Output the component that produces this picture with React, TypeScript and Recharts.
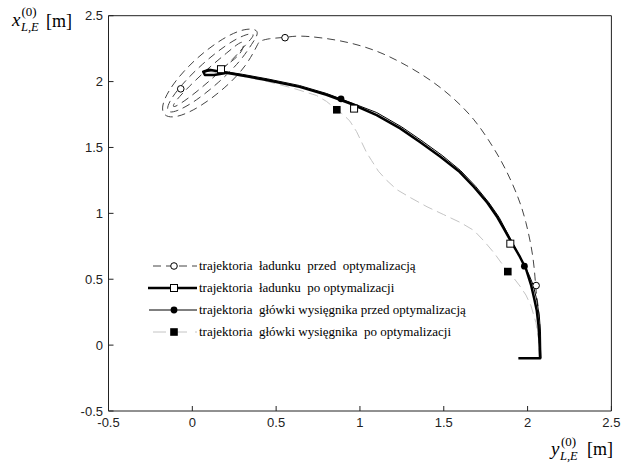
import { ComposedChart, Line, Scatter, XAxis, YAxis, Legend } from 'recharts';

type Pt = [number, number];

const xTicks = [-0.5, 0, 0.5, 1, 1.5, 2, 2.5];
const yTicks = [-0.5, 0, 0.5, 1, 1.5, 2, 2.5];

const seriesNames = [
  'trajektoria  ładunku  przed  optymalizacją',
  'trajektoria  ładunku  po optymalizacji',
  'trajektoria  główki wysięgnika przed optymalizacją',
  'trajektoria  główki wysięgnika  po optymalizacji',
];

// ladunek przed optymalizacja - arc up from the crane, then swinging around the end point
const loadBefore: Pt[] = [
  [2.075, -0.1], [2.075, 0.1], [2.066, 0.26], [2.055, 0.37], [2.047, 0.47], [2.03, 0.68],
  [1.99, 0.93], [1.94, 1.13], [1.87, 1.33], [1.79, 1.51], [1.68, 1.71], [1.55, 1.88],
  [1.42, 2.01], [1.28, 2.12], [1.12, 2.22], [0.95, 2.29], [0.78, 2.33], [0.64, 2.345],
  [0.553, 2.336], [0.46, 2.325], [0.41, 2.31],
  [0.389, 2.28], [0.317, 2.124], [0.19, 1.952], [0.041, 1.811], [-0.089, 1.737], [-0.166, 1.752],
  [-0.169, 1.85], [-0.097, 2.006], [0.03, 2.178], [0.179, 2.32], [0.309, 2.393], [0.386, 2.378],
  [0.353, 2.281], [0.278, 2.15], [0.158, 1.997], [0.025, 1.862], [-0.086, 1.782], [-0.143, 1.777],
  [-0.133, 1.85], [-0.058, 1.98], [0.062, 2.133], [0.195, 2.268], [0.306, 2.348], [0.363, 2.353],
  [0.312, 2.27], [0.238, 2.167], [0.13, 2.037], [0.016, 1.914], [-0.073, 1.832], [-0.112, 1.812],
  [-0.093, 1.86], [-0.018, 1.963], [0.09, 2.093], [0.204, 2.216], [0.293, 2.298], [0.3, 2.25],
  [0.25, 2.17], [0.15, 2.08],
];

const loadAfter: Pt[] = [
  [1.945, -0.1], [2.075, -0.1], [2.07, 0.05], [2.065, 0.15], [2.055, 0.26], [2.04, 0.35],
  [2.02, 0.46], [1.99, 0.58], [1.95, 0.68], [1.9, 0.79], [1.86, 0.88], [1.82, 0.97],
  [1.76, 1.08], [1.68, 1.2], [1.59, 1.32], [1.48, 1.43], [1.36, 1.54], [1.24, 1.645],
  [1.1, 1.745], [0.95, 1.83], [0.8, 1.9], [0.64, 1.96], [0.45, 2.01], [0.28, 2.05],
  [0.17, 2.075], [0.1, 2.09], [0.065, 2.075], [0.075, 2.05], [0.13, 2.05], [0.2, 2.065],
];

const boomBefore: Pt[] = [
  [2.08, -0.1], [2.077, 0.1], [2.07, 0.22], [2.055, 0.34], [2.035, 0.45], [2.01, 0.53],
  [1.981, 0.6], [1.93, 0.73], [1.88, 0.85], [1.83, 0.97], [1.77, 1.08], [1.69, 1.205],
  [1.6, 1.325], [1.49, 1.44], [1.37, 1.55], [1.25, 1.655], [1.1, 1.765], [0.887, 1.869],
  [0.8, 1.91], [0.64, 1.97], [0.45, 2.02], [0.3, 2.055], [0.2, 2.075], [0.12, 2.085], [0.07, 2.07],
];

const boomAfter: Pt[] = [
  [2.07, -0.1], [2.065, 0.05], [2.05, 0.17], [2.02, 0.3], [1.99, 0.38], [1.955, 0.447],
  [1.92, 0.505], [1.882, 0.56], [1.84, 0.63], [1.8, 0.7], [1.74, 0.79], [1.68, 0.87],
  [1.6, 0.93], [1.5, 0.99], [1.4, 1.05], [1.3, 1.12], [1.22, 1.18], [1.16, 1.25],
  [1.11, 1.32], [1.07, 1.4], [1.04, 1.46], [1.01, 1.54], [0.98, 1.62], [0.94, 1.7],
  [0.9, 1.75], [0.862, 1.786], [0.8, 1.85], [0.74, 1.895], [0.6, 1.95], [0.45, 2.0],
  [0.3, 2.04], [0.18, 2.065], [0.1, 2.075],
];

const loadBeforeMarks: Pt[] = [[-0.069, 1.945], [0.553, 2.333], [2.051, 0.452]];
const loadAfterMarks: Pt[] = [[0.171, 2.094], [0.965, 1.795], [1.897, 0.77]];
const boomBeforeMarks: Pt[] = [[0.887, 1.869], [1.981, 0.599]];
const boomAfterMarks: Pt[] = [[0.862, 1.786], [1.882, 0.558]];

const toRows = (pts: Pt[]) => pts.map(([x, y]) => ({ x, y }));

const OpenCircle = (p: any) => <circle cx={p.cx} cy={p.cy} r={3.3} fill="#fff" stroke="#000" strokeWidth={1} />;
const FilledCircle = (p: any) => <circle cx={p.cx} cy={p.cy} r={3.4} fill="#000" />;
const OpenSquare = (p: any) => <rect x={p.cx - 3.5} y={p.cy - 3.5} width={7} height={7} fill="#fff" stroke="#000" strokeWidth={1} />;
const FilledSquare = (p: any) => <rect x={p.cx - 3.8} y={p.cy - 3.8} width={7.6} height={7.6} fill="#000" />;

const tickStyle = { fill: '#222', fontSize: 13, fontFamily: '"Liberation Sans", Arial, sans-serif' };
const serif = '"Liberation Serif", "Times New Roman", serif';
const labelStyle = { fontFamily: serif };

const legendSamples = [
  (
    <g>
      <line x1={1} x2={49} y1={11} y2={11} stroke="#444" strokeDasharray="8 5" strokeDashoffset={-4} />
      <circle cx={26} cy={11} r={3.3} fill="#fff" stroke="#000" />
    </g>
  ),
  (
    <g>
      <line x1={0} x2={49} y1={11} y2={11} stroke="#000" strokeWidth={2.5} />
      <rect x={22.5} y={7.5} width={7} height={7} fill="#fff" stroke="#000" />
    </g>
  ),
  (
    <g>
      <line x1={1} x2={49} y1={11} y2={11} stroke="#000" strokeWidth={1} />
      <circle cx={26} cy={11} r={3.4} fill="#000" />
    </g>
  ),
  (
    <g>
      <line x1={5} x2={49} y1={11} y2={11} stroke="#c4c4c4" strokeDasharray="13 8" />
      <rect x={22.2} y={7.2} width={7.6} height={7.6} fill="#000" />
    </g>
  ),
];

const TrajLegend = () => (
  <div style={{ fontFamily: serif, fontSize: 13, color: '#000' }}>
    {seriesNames.map((name, i) => (
      <div key={name} style={{ display: 'flex', alignItems: 'center', height: 22 }}>
        <svg width={50} height={22} style={{ display: 'block' }}>{legendSamples[i]}</svg>
        <span style={{ whiteSpace: 'pre', marginLeft: 1 }}>{name}</span>
      </div>
    ))}
  </div>
);

export default function App() {
  return (
    <div style={{ position: 'absolute', left: 0, top: 0, width: 628, height: 468, background: '#fff' }}>
      <ComposedChart width={628} height={468} margin={{ top: 14.7, right: 15.6, bottom: 27, left: 48.5 }}>
        <XAxis
          dataKey="x"
          type="number"
          domain={[-0.5, 2.5]}
          ticks={xTicks}
          height={30}
          stroke="#222"
          tickSize={-5}
          tickMargin={12}
          tick={tickStyle}
          allowDataOverflow
        />
        <XAxis xAxisId="top" orientation="top" type="number" domain={[-0.5, 2.5]} ticks={xTicks} height={1} stroke="#222" tickSize={-5} tick={false} />
        <YAxis
          dataKey="y"
          type="number"
          domain={[-0.5, 2.5]}
          ticks={yTicks}
          width={60}
          stroke="#222"
          tickSize={-5}
          tickMargin={10.5}
          tick={tickStyle}
          allowDataOverflow
        />
        <YAxis yAxisId="right" orientation="right" type="number" domain={[-0.5, 2.5]} ticks={yTicks} width={1} stroke="#222" tickSize={-5} tick={false} />
        <Legend
          layout="vertical"
          align="center"
          verticalAlign="middle"
          content={<TrajLegend />}
          wrapperStyle={{ left: 148, top: 255, width: 360, height: 90 }}
        />
        <Line data={toRows(loadBefore)} dataKey="y" type="natural" stroke="#444" strokeWidth={1} strokeDasharray="8 5" dot={false} isAnimationActive={false} />
        <Line data={toRows(boomAfter)} dataKey="y" type="linear" stroke="#c4c4c4" strokeWidth={1} strokeDasharray="10 5" dot={false} isAnimationActive={false} />
        <Line data={toRows(boomBefore)} dataKey="y" type="linear" stroke="#000" strokeWidth={1} dot={false} isAnimationActive={false} />
        <Line data={toRows(loadAfter)} dataKey="y" type="linear" stroke="#000" strokeWidth={2.5} strokeLinejoin="round" dot={false} isAnimationActive={false} />
        <Scatter data={toRows(loadBeforeMarks)} dataKey="y" shape={OpenCircle} isAnimationActive={false} />
        <Scatter data={toRows(loadAfterMarks)} dataKey="y" shape={OpenSquare} isAnimationActive={false} />
        <Scatter data={toRows(boomBeforeMarks)} dataKey="y" shape={FilledCircle} isAnimationActive={false} />
        <Scatter data={toRows(boomAfterMarks)} dataKey="y" shape={FilledSquare} isAnimationActive={false} />
      </ComposedChart>
      <svg width={628} height={468} style={{ position: 'absolute', left: 0, top: 0, pointerEvents: 'none' }}>
        <text x={12} y={26} fontSize={19} fontStyle="italic" style={labelStyle}>x</text>
        <text x={21.5} y={16} fontSize={13} style={labelStyle}>(0)</text>
        <text x={21} y={31} fontSize={12.5} fontStyle="italic" style={labelStyle}>L,E</text>
        <text x={46} y={27} fontSize={18} style={labelStyle}>[m]</text>
        <text x={551} y={455} fontSize={19} fontStyle="italic" style={labelStyle}>y</text>
        <text x={561} y={446} fontSize={13} style={labelStyle}>(0)</text>
        <text x={560} y={460} fontSize={12.5} fontStyle="italic" style={labelStyle}>L,E</text>
        <text x={587} y={455} fontSize={18} style={labelStyle}>[m]</text>
      </svg>
    </div>
  );
}
